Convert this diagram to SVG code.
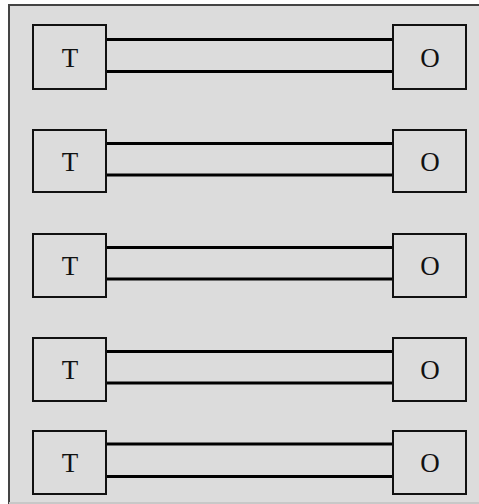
<svg xmlns="http://www.w3.org/2000/svg" width="479" height="504" viewBox="0 0 479 504">
<style>
.bg{fill:#dcdcdc;stroke:#444;stroke-width:2}
.box{fill:#dcdcdc;stroke:#111;stroke-width:2}
.ln{stroke:#000;stroke-width:3;fill:none}
.lb{font-family:"Liberation Serif",serif;font-size:27px;fill:#111;text-anchor:middle}
</style>
<rect class="bg" x="9" y="5" width="480" height="510"/>
<rect x="9" y="502" width="470" height="2" fill="#c8c8c8"/>
<g id="connectors">
<line class="ln" x1="106" y1="39.5" x2="393" y2="39.5"/>
<line class="ln" x1="106" y1="71.5" x2="393" y2="71.5"/>
<line class="ln" x1="106" y1="143.5" x2="393" y2="143.5"/>
<line class="ln" x1="106" y1="175" x2="393" y2="175"/>
<line class="ln" x1="106" y1="247.5" x2="393" y2="247.5"/>
<line class="ln" x1="106" y1="279" x2="393" y2="279"/>
<line class="ln" x1="106" y1="351.5" x2="393" y2="351.5"/>
<line class="ln" x1="106" y1="383" x2="393" y2="383"/>
<line class="ln" x1="106" y1="444" x2="393" y2="444"/>
<line class="ln" x1="106" y1="476.5" x2="393" y2="476.5"/>
</g>
<g id="t1"><rect class="box" x="33" y="25" width="73" height="64"/><text class="lb" x="70" y="67">T</text></g>
<g id="o1"><rect class="box" x="393" y="25" width="73" height="64"/><text class="lb" x="430" y="67">O</text></g>
<g id="t2"><rect class="box" x="33" y="130" width="73" height="62"/><text class="lb" x="70" y="171">T</text></g>
<g id="o2"><rect class="box" x="393" y="130" width="73" height="62"/><text class="lb" x="430" y="171">O</text></g>
<g id="t3"><rect class="box" x="33" y="234" width="73" height="63"/><text class="lb" x="70" y="275">T</text></g>
<g id="o3"><rect class="box" x="393" y="234" width="73" height="63"/><text class="lb" x="430" y="275">O</text></g>
<g id="t4"><rect class="box" x="33" y="338" width="73" height="63"/><text class="lb" x="70" y="379">T</text></g>
<g id="o4"><rect class="box" x="393" y="338" width="73" height="63"/><text class="lb" x="430" y="379">O</text></g>
<g id="t5"><rect class="box" x="33" y="431" width="73" height="63"/><text class="lb" x="70" y="472">T</text></g>
<g id="o5"><rect class="box" x="393" y="431" width="73" height="63"/><text class="lb" x="430" y="472">O</text></g>
</svg>
